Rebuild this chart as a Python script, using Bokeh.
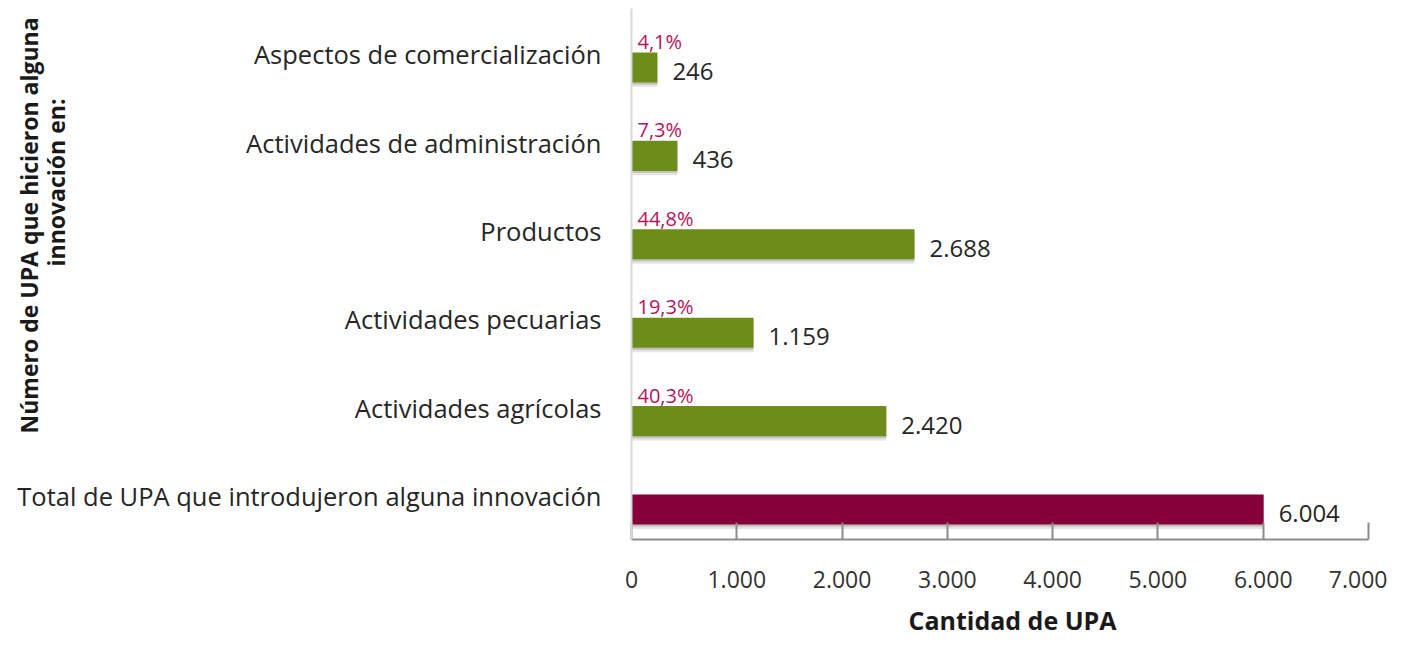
import math
from bokeh.plotting import figure
from bokeh.models import ColumnDataSource, FixedTicker, Range1d, Label, LinearAxis
from bokeh.core.properties import value
from bokeh.embed import file_html
from bokeh.resources import INLINE

# ---- data (bottom to top) ----
categories = [
    "Total de UPA que introdujeron alguna innovación",
    "Actividades agrícolas",
    "Actividades pecuarias",
    "Productos",
    "Actividades de administración",
    "Aspectos de comercialización",
]
counts = [6004, 2420, 1159, 2688, 436, 246]
count_labels = ["6.004", "2.420", "1.159", "2.688", "436", "246"]
percent_labels = ["", "40,3%", "19,3%", "44,8%", "7,3%", "4,1%"]
bar_colors = ["#86003A", "#6E8C1A", "#6E8C1A", "#6E8C1A", "#6E8C1A", "#6E8C1A"]
x_ticks = [0, 1000, 2000, 3000, 4000, 5000, 6000, 7000]
x_tick_labels = ["0", "1.000", "2.000", "3.000", "4.000", "5.000", "6.000", "7.000"]

FONT = "Open Sans"
W, H = 1387, 640
# pixel box of the plotting area (axes) inside the canvas
A_LEFT, A_RIGHT, A_TOP, A_BOTTOM = 631, 1368, 8, 539
X0, X1 = 0, 7000
Y0, Y1 = -0.339, 5.667


def xd(px):
    return X0 + (px - A_LEFT) * (X1 - X0) / (A_RIGHT - A_LEFT)


def yd(py):
    return Y0 + (A_BOTTOM - py) * (Y1 - Y0) / (A_BOTTOM - A_TOP)


pos = list(range(len(categories)))
src = ColumnDataSource(dict(y=pos, x=counts, c=bar_colors, lab=count_labels,
                            pct=percent_labels, zero=[0] * len(pos)))

# the frame covers the whole canvas so that texts outside the axes box are not clipped
p = figure(width=W, height=H, output_backend="svg", toolbar_location=None,
           x_range=Range1d(xd(0), xd(W)), y_range=Range1d(yd(H), yd(0)),
           x_axis_location=None, y_axis_location=None,
           min_border_left=0, min_border_right=0, min_border_top=0, min_border_bottom=0)
p.outline_line_color = None
p.grid.visible = False
p.background_fill_color = "white"
p.border_fill_color = "white"

# soft shadow
sh = ColumnDataSource(dict(y=[v - 0.04 for v in pos], x=counts))
p.hbar(y="y", right="x", left=0, height=0.36, source=sh, fill_color="#000000",
       fill_alpha=0.10, line_color=None)
sh2 = ColumnDataSource(dict(y=[v - 0.025 for v in pos], x=counts))
p.hbar(y="y", right="x", left=0, height=0.34, source=sh2, fill_color="#000000",
       fill_alpha=0.15, line_color=None)
p.hbar(y="y", right="x", left=0, height=0.34, source=src, fill_color="c", line_color=None)

p.text(x="x", y="y", text="lab", source=src, x_offset=15, y_offset=4,
       text_font=value(FONT), text_font_size="24px", text_color="#262626",
       text_baseline="middle", text_align="left")
p.text(x="zero", y="y", text="pct", source=src, x_offset=6, y_offset=-26,
       text_font=value(FONT), text_font_size="20px", text_color="#B7135B",
       text_baseline="middle", text_align="left")

# x axis, fixed at the bottom of the axes box
xa = LinearAxis(fixed_location=Y0, bounds=(X0, X1))
xa.ticker = FixedTicker(ticks=x_ticks, minor_ticks=[])
xa.major_label_overrides = {t: l for t, l in zip(x_ticks, x_tick_labels)}
xa.major_tick_in = 17
xa.major_tick_out = 0
xa.minor_tick_in = 0
xa.minor_tick_out = 0
xa.axis_line_color = "#8C8C8C"
xa.axis_line_width = 2
xa.major_tick_line_color = "#8C8C8C"
xa.major_tick_line_width = 2
xa.major_label_standoff = 31
xa.major_label_text_font = FONT
xa.major_label_text_font_size = "23px"
xa.major_label_text_color = "#333333"
p.add_layout(xa, "below")

# y axis (categories), fixed at x = 0; labels sit a little above bar centres
cat_ticks = [round(i + 0.15, 2) for i in pos]
ya = LinearAxis(fixed_location=X0, bounds=(Y0, Y1))
ya.ticker = FixedTicker(ticks=cat_ticks, minor_ticks=[])
ya.major_label_overrides = {t: c for t, c in zip(cat_ticks, categories)}
ya.major_tick_in = 0
ya.major_tick_out = 0
ya.minor_tick_in = 0
ya.minor_tick_out = 0
ya.axis_line_color = "#D9D9D9"
ya.axis_line_width = 2
ya.major_label_standoff = 30
ya.major_label_text_font = FONT
ya.major_label_text_font_size = "25.5px"
ya.major_label_text_color = "#262626"
p.add_layout(ya, "left")

# axis titles
p.add_layout(Label(x=xd(1012), y=yd(619), text="Cantidad de UPA",
                   text_align="center", text_baseline="middle", text_font=FONT,
                   text_font_size="25px", text_font_style="bold", text_color="#1A1A1A"))
p.add_layout(Label(x=xd(28), y=yd(225),
                   text="Número de UPA que hicieron alguna", angle=math.pi / 2,
                   text_align="center", text_baseline="middle", text_font=FONT,
                   text_font_size="23px", text_font_style="bold", text_color="#1A1A1A"))
p.add_layout(Label(x=xd(55), y=yd(182),
                   text="innovación en:", angle=math.pi / 2,
                   text_align="center", text_baseline="middle", text_font=FONT,
                   text_font_size="23px", text_font_style="bold", text_color="#1A1A1A"))

open("out.html", "w").write(file_html(p, INLINE))
